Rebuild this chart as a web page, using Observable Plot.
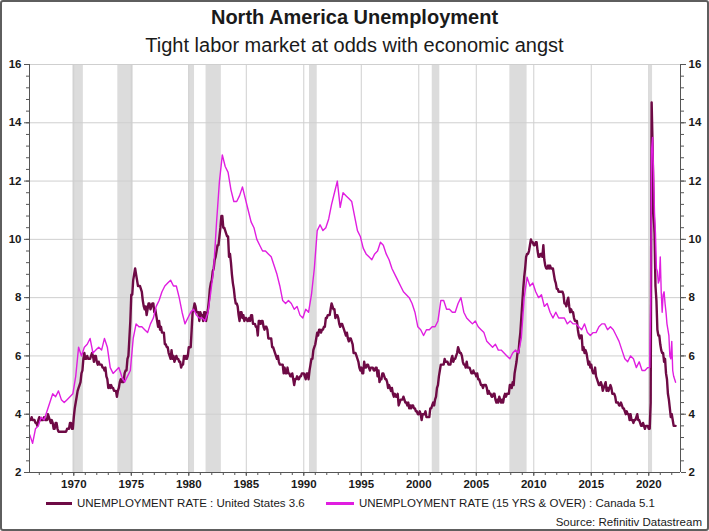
<!DOCTYPE html>
<html><head><meta charset="utf-8">
<script src="https://cdn.jsdelivr.net/npm/d3@7"></script>
<script src="https://cdn.jsdelivr.net/npm/@observablehq/plot@0.6"></script>
<style>
body{margin:0;background:#fff;}
#wrap{position:relative;width:709px;height:531px;overflow:hidden;font-family:"Liberation Sans",Arial,sans-serif;background:#fff;}
#frame{position:absolute;left:0;top:0;width:709px;height:531px;box-sizing:border-box;border:2px solid #5e5e5e;border-radius:3px;pointer-events:none;}
.t{position:absolute;white-space:nowrap;color:#1a1a1a;}
.sw{position:absolute;height:3px;}
</style></head><body>
<div id="wrap">
  <div id="chart" style="position:absolute;left:0;top:0"></div>
  <div class="t" style="left:0;width:709px;text-align:center;top:6px;font-size:20px;font-weight:bold;line-height:22px">North America Unemployment</div>
  <div class="t" style="left:0;width:709px;text-align:center;top:34px;font-size:20px;line-height:22px">Tight labor market at odds with economic angst</div>
  <div class="sw" id="sw1" style="left:46px;top:502px;width:26px;"></div>
  <div class="t" id="lg1" style="left:77px;top:496px;font-size:11.5px;line-height:14px"></div>
  <div class="sw" id="sw2" style="left:326px;top:502px;width:28px;"></div>
  <div class="t" id="lg2" style="left:359px;top:496px;font-size:11.5px;line-height:14px"></div>
  <div class="t" id="src" style="right:7px;top:515px;font-size:11.5px;line-height:14px"></div>
  <div id="frame"></div>
</div>
<script>
// ---- Data ----
const seriesNames = ["UNEMPLOYMENT RATE : United States 3.6", "UNEMPLOYMENT RATE (15 YRS & OVER) : Canada 5.1"];
const sourceText = "Source: Refinitiv Datastream";
const colors = ["#6e0a45", "#e01ee0"];

// US unemployment rate, monthly from Jan 1966 to May 2022
const usRates = [
4.0,3.8,3.8,3.8,3.9,3.8,3.8,3.8,3.7,3.7,3.6,3.8,
3.9,3.8,3.8,3.8,3.8,3.9,3.8,3.8,3.8,4.0,3.9,3.8,
3.7,3.8,3.7,3.5,3.5,3.7,3.7,3.5,3.4,3.4,3.4,3.4,
3.4,3.4,3.4,3.4,3.4,3.5,3.5,3.5,3.7,3.7,3.5,3.5,
3.9,4.2,4.4,4.6,4.8,4.9,5.0,5.1,5.4,5.5,5.9,6.1,
5.9,5.9,6.0,5.9,5.9,5.9,6.0,6.1,6.0,5.8,6.0,6.0,
5.8,5.7,5.8,5.7,5.7,5.7,5.6,5.6,5.5,5.6,5.3,5.2,
4.9,5.0,4.9,5.0,4.9,4.9,4.8,4.8,4.8,4.6,4.8,4.9,
5.1,5.2,5.1,5.1,5.1,5.4,5.5,5.5,5.9,6.0,6.6,7.2,
8.1,8.1,8.6,8.8,9.0,8.8,8.6,8.4,8.4,8.4,8.3,8.2,
7.9,7.7,7.6,7.7,7.4,7.6,7.8,7.8,7.6,7.7,7.8,7.8,
7.5,7.6,7.4,7.2,7.0,7.2,6.9,7.0,6.8,6.8,6.8,6.4,
6.4,6.3,6.3,6.1,6.0,5.9,6.2,5.9,6.0,5.8,5.9,6.0,
5.9,5.9,5.8,5.8,5.6,5.7,5.7,6.0,5.9,6.0,5.9,6.0,
6.3,6.3,6.3,6.9,7.5,7.6,7.8,7.7,7.5,7.5,7.5,7.2,
7.5,7.4,7.4,7.2,7.5,7.5,7.2,7.4,7.6,7.9,8.3,8.5,
8.6,8.9,9.0,9.3,9.4,9.6,9.8,9.8,10.1,10.4,10.8,10.8,
10.4,10.4,10.3,10.2,10.1,10.1,9.4,9.5,9.2,8.8,8.5,8.3,
8.0,7.8,7.8,7.7,7.4,7.2,7.5,7.5,7.3,7.4,7.2,7.3,
7.3,7.2,7.2,7.3,7.2,7.4,7.4,7.1,7.1,7.1,7.0,7.0,
6.7,7.2,7.2,7.1,7.2,7.2,7.0,6.9,7.0,7.0,6.9,6.6,
6.6,6.6,6.6,6.3,6.3,6.2,6.1,6.0,5.9,6.0,5.8,5.7,
5.7,5.7,5.7,5.4,5.6,5.4,5.4,5.6,5.4,5.4,5.3,5.3,
5.4,5.2,5.0,5.2,5.2,5.3,5.2,5.2,5.3,5.3,5.4,5.4,
5.4,5.3,5.2,5.4,5.4,5.2,5.5,5.7,5.9,5.9,6.2,6.3,
6.4,6.6,6.8,6.7,6.9,6.9,6.8,6.9,6.9,7.0,7.0,7.3,
7.3,7.4,7.4,7.4,7.6,7.8,7.7,7.6,7.6,7.3,7.4,7.4,
7.3,7.1,7.0,7.1,7.1,7.0,6.9,6.8,6.7,6.8,6.6,6.5,
6.6,6.6,6.5,6.4,6.1,6.1,6.1,6.0,5.9,5.8,5.6,5.5,
5.6,5.4,5.4,5.8,5.6,5.6,5.7,5.7,5.6,5.5,5.6,5.6,
5.6,5.5,5.5,5.6,5.6,5.3,5.5,5.1,5.2,5.2,5.4,5.4,
5.3,5.2,5.2,5.1,4.9,5.0,4.9,4.8,4.9,4.7,4.6,4.7,
4.6,4.6,4.7,4.3,4.4,4.5,4.5,4.5,4.6,4.5,4.4,4.4,
4.3,4.4,4.2,4.3,4.2,4.3,4.3,4.2,4.2,4.1,4.1,4.0,
4.0,4.1,4.0,3.8,4.0,4.0,4.0,4.1,3.9,3.9,3.9,3.9,
4.2,4.2,4.3,4.4,4.3,4.5,4.6,4.9,5.0,5.3,5.5,5.7,
5.7,5.7,5.7,5.9,5.8,5.8,5.8,5.7,5.7,5.7,5.9,6.0,
5.8,5.9,5.9,6.0,6.1,6.3,6.2,6.1,6.1,6.0,5.8,5.7,
5.7,5.6,5.8,5.6,5.6,5.6,5.5,5.4,5.4,5.5,5.4,5.4,
5.3,5.4,5.2,5.2,5.1,5.0,5.0,4.9,5.0,5.0,5.0,4.9,
4.7,4.8,4.7,4.7,4.6,4.6,4.7,4.7,4.5,4.4,4.5,4.4,
4.6,4.5,4.4,4.5,4.4,4.6,4.7,4.6,4.7,4.7,4.7,5.0,
5.0,4.9,5.1,5.0,5.4,5.6,5.8,6.1,6.1,6.5,6.8,7.3,
7.8,8.3,8.7,9.0,9.4,9.5,9.5,9.6,9.8,10.0,9.9,9.9,
9.8,9.8,9.9,9.9,9.6,9.4,9.4,9.5,9.5,9.4,9.8,9.3,
9.1,9.0,9.0,9.1,9.0,9.1,9.0,9.0,9.0,8.8,8.6,8.5,
8.3,8.3,8.2,8.2,8.2,8.2,8.2,8.1,7.8,7.8,7.7,7.9,
8.0,7.7,7.5,7.6,7.5,7.5,7.3,7.2,7.2,7.2,6.9,6.7,
6.6,6.7,6.7,6.2,6.3,6.1,6.2,6.1,5.9,5.7,5.8,5.6,
5.7,5.5,5.4,5.4,5.6,5.3,5.2,5.1,5.0,5.0,5.1,5.0,
4.8,4.9,5.0,5.1,4.8,4.9,4.8,4.9,5.0,4.9,4.7,4.7,
4.7,4.6,4.4,4.4,4.4,4.3,4.3,4.4,4.3,4.2,4.2,4.1,
4.0,4.1,4.0,4.0,3.8,4.0,3.8,3.8,3.7,3.8,3.8,3.9,
4.0,3.8,3.8,3.7,3.6,3.6,3.7,3.6,3.5,3.6,3.6,3.6,
3.5,3.5,4.4,14.7,13.2,11.0,10.2,8.4,7.9,6.9,6.7,6.7,
6.4,6.2,6.1,6.1,5.8,5.9,5.4,5.2,4.7,4.5,4.2,3.9,
4.0,3.8,3.6,3.6,3.6
];

// Canada unemployment rate, quarterly readings (Mar, Jun, Sep, Dec) 1966-2019
const canadaQuarterly = [
3.3,3.0,3.5,3.6, 3.9,3.8,4.1,4.4, 4.7,4.6,4.8,4.5, 4.4,4.5,4.6,4.7,
5.3,6.3,6.0,6.3, 6.4,6.6,6.1,6.2, 6.3,6.2,6.6,6.3, 5.6,5.4,5.5,5.6,
5.3,5.1,5.3,5.5, 6.6,7.1,7.0,7.0, 6.9,6.8,7.1,7.3, 7.7,7.9,8.2,8.4,
8.5,8.6,8.4,8.4, 8.0,7.5,7.1,7.3, 7.5,7.6,7.4,7.3, 7.3,7.2,7.5,8.2,
9.0,10.6,12.0,12.9, 12.5,12.3,11.7,11.3, 11.3,11.5,11.8,11.4, 11.0,10.6,10.4,10.0,
9.8,9.6,9.6,9.5, 9.4,9.1,8.8,8.4, 7.9,7.8,7.9,7.8, 7.6,7.7,7.4,7.3,
7.6,7.5,8.1,9.0, 10.3,10.5,10.3,10.4, 10.7,11.2,11.6,12.0, 11.1,11.6,11.5,11.4,
11.3,10.8,10.3,10.1, 9.7,9.5,9.4,9.3, 9.5,9.6,9.9,9.8, 9.5,9.3,9.0,8.8,
8.6,8.4,8.2,8.1, 8.0,7.8,7.5,7.0, 6.9,6.7,6.9,6.9, 7.0,7.0,7.2,7.9,
7.9,7.6,7.6,7.5, 7.5,7.8,8.0,7.5, 7.3,7.2,7.1,7.2, 7.0,6.9,6.8,6.5,
6.4,6.3,6.4,6.2, 6.2,6.1,6.0,5.9, 6.1,6.2,6.1,6.6, 8.0,8.7,8.4,8.5,
8.2,8.0,8.1,7.7, 7.8,7.5,7.3,7.5, 7.3,7.3,7.3,7.1, 7.2,7.1,7.1,7.0,
6.9,7.1,6.8,6.7, 6.8,6.8,7.0,7.1, 7.1,6.9,7.0,6.9, 6.7,6.5,6.2,5.9,
5.8,6.0,5.9,5.6, 5.8,5.5,5.5,5.6
];
// Canada monthly Jan 2020 - May 2022
const canadaMonthly = [
5.6,5.6,7.8,13.1,13.5,12.3,10.9,10.2,9.0,8.9,8.5,8.6,
9.4,8.2,7.5,8.1,8.2,7.8,7.5,7.1,6.9,6.7,6.0,5.9,
6.5,5.5,5.3,5.2,5.1
];

// NBER recessions (decimal years)
const recStart = [1969.92, 1973.83, 1980.0, 1981.5, 1990.5, 2001.17, 2007.92, 2020.08];
const recEnd   = [1970.83, 1975.17, 1980.5, 1982.83, 1991.17, 2001.83, 2009.42, 2020.33];

const yLabels = [2,4,6,8,10,12,14,16];
const xLabels = [1970,1975,1980,1985,1990,1995,2000,2005,2010,2015,2020];

// ---- Build ----
const us = usRates.map((v,i)=>({t:1966+i/12, v}));
const ca = canadaQuarterly.map((v,i)=>({t:1966+(2+3*i)/12, v}))
  .concat(canadaMonthly.map((v,i)=>({t:2020+i/12, v})));
const rec = recStart.map((s,i)=>({s, e:recEnd[i]}));
const xd = [1966.148, 2022.76];
const yMinor = d3.range(2, 16.001, 0.4).map(d=>+d.toFixed(1));
const xMinor = d3.range(1967, 2023);

const axisFont = {fontSize: 11.5, fontWeight: "bold"};
const chart = Plot.plot({
  width: 709, height: 531,
  marginTop: 64, marginBottom: 59, marginLeft: 29, marginRight: 29,
  style: {fontFamily: "'Liberation Sans', Arial, sans-serif", color: "#1a1a1a", background: "transparent", overflow: "visible"},
  x: {domain: xd, label: null},
  y: {domain: [2,16], label: null},
  marks: [
    Plot.rect(rec, {x1:"s", x2:"e", y1:2, y2:16, fill:"#dcdcdc"}),
    Plot.ruleY(yLabels.filter(d=>d>2), {stroke:"#cfcfcf", strokeWidth:1}),
    Plot.ruleX(xLabels, {y1:2, y2:16, stroke:"#cfcfcf", strokeWidth:1}),
    Plot.line(us, {x:"t", y:"v", stroke:colors[0], strokeWidth:2.4, strokeLinejoin:"round", clip:true}),
    Plot.line(ca, {x:"t", y:"v", stroke:colors[1], strokeWidth:1.4, strokeLinejoin:"round", clip:true}),
    Plot.ruleX([xd[0], xd[1]], {y1:2, y2:16, stroke:"#555"}),
    Plot.ruleY([2], {stroke:"#555"}),
    Plot.axisY(yMinor, {anchor:"left", tickSize:3, tickFormat:()=>"", stroke:"#555", label:null}),
    Plot.axisY(yMinor, {anchor:"right", tickSize:3, tickFormat:()=>"", stroke:"#555", label:null}),
    Plot.axisY(yLabels, {anchor:"left", tickSize:5, tickPadding:3, stroke:"#555", fill:"#1a1a1a", label:null, ...axisFont}),
    Plot.axisY(yLabels, {anchor:"right", tickSize:5, tickPadding:3, stroke:"#555", fill:"#1a1a1a", label:null, ...axisFont}),
    Plot.axisX(xMinor, {anchor:"bottom", tickSize:3, tickFormat:()=>"", stroke:"#555", label:null}),
    Plot.axisX(xLabels, {anchor:"bottom", tickSize:4, tickPadding:3, tickFormat:d=>String(d), stroke:"#555", fill:"#1a1a1a", label:null, ...axisFont})
  ]
});
document.getElementById("chart").appendChild(chart);
document.getElementById("sw1").style.background = colors[0];
document.getElementById("sw2").style.background = colors[1];
document.getElementById("lg1").textContent = seriesNames[0];
document.getElementById("lg2").textContent = seriesNames[1];
document.getElementById("src").textContent = sourceText;
</script>
</body></html>
